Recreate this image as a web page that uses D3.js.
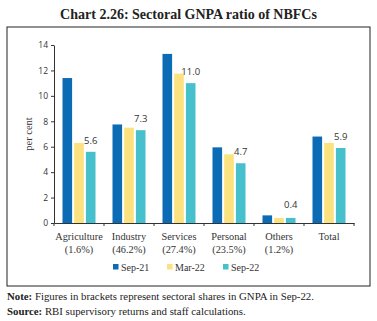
<!DOCTYPE html>
<html>
<head>
<meta charset="utf-8">
<script src="https://cdn.jsdelivr.net/npm/d3@7"></script>
<style>
  body { margin: 0; background: #fff; }
  svg { display: block; font-family: "Liberation Serif", "DejaVu Serif", serif; }
</style>
</head>
<body>
<svg id="chart"></svg>
<script>
const categories = ['Agriculture', 'Industry', 'Services', 'Personal', 'Others', 'Total'];
const shares = ['(1.6%)', '(46.2%)', '(27.4%)', '(23.5%)', '(1.2%)', ''];
const seriesNames = ['Sep-21', 'Mar-22', 'Sep-22'];
const sep21 = [11.4, 7.75, 13.3, 5.95, 0.6, 6.8];
const mar22 = [6.3, 7.5, 11.75, 5.4, 0.4, 6.3];
const sep22 = [5.6, 7.3, 11.0, 4.7, 0.4, 5.9];
const yTicks = [0, 2, 4, 6, 8, 10, 12, 14];

const colors = ['#0b6bb5', '#fbe27f', '#45c0cc'];
const seriesValues = [sep21, mar22, sep22];
const numFont = '"Open Sans", "Noto Sans", sans-serif';

const width = 377, height = 321;
const svg = d3.select('#chart').attr('width', width).attr('height', height);

// title
svg.append('text')
  .attr('x', 188.5).attr('y', 19)
  .attr('text-anchor', 'middle')
  .attr('font-weight', 'bold')
  .attr('font-size', 14)
  .attr('fill', '#222')
  .text('Chart 2.26: Sectoral GNPA ratio of NBFCs');

// frame
svg.append('rect')
  .attr('x', 7).attr('y', 27)
  .attr('width', 363).attr('height', 259)
  .attr('fill', 'none').attr('stroke', '#222').attr('stroke-width', 1);

const plotLeft = 54, plotRight = 354, plotTop = 45, plotBottom = 223;

const x = d3.scaleBand().domain(categories).range([plotLeft, plotRight]);
const xs = d3.scaleBand().domain(seriesNames).range([0, 33]).paddingInner(0.18);
const y = d3.scaleLinear().domain([0, 14]).range([plotBottom, plotTop]);

// bars
seriesNames.forEach((name, si) => {
  svg.append('g').selectAll('rect')
    .data(categories)
    .join('rect')
    .attr('x', (c) => x(c) + (x.bandwidth() - 33) / 2 + xs(name))
    .attr('y', (c, i) => y(seriesValues[si][i]))
    .attr('width', xs.bandwidth())
    .attr('height', (c, i) => plotBottom - y(seriesValues[si][i]))
    .attr('fill', colors[si]);
});

// value labels on Sep-22 bars
svg.append('g').selectAll('text')
  .data(categories)
  .join('text')
  .attr('x', (c) => x(c) + (x.bandwidth() - 33) / 2 + xs('Sep-22') + xs.bandwidth() / 2)
  .attr('y', (c, i) => y(sep22[i]) - (i === 4 ? 10 : 8))
  .attr('text-anchor', 'middle')
  .attr('font-family', numFont)
  .attr('font-size', 9.5)
  .attr('fill', '#333')
  .text((c, i) => sep22[i].toFixed(1));

// y axis
const yAxis = svg.append('g')
  .attr('transform', `translate(${plotLeft},0)`)
  .call(d3.axisLeft(y).tickValues(yTicks).tickSize(3).tickPadding(3).tickSizeOuter(0));
yAxis.select('.domain').attr('stroke', '#333');
yAxis.selectAll('line').attr('stroke', '#333');
yAxis.selectAll('text').attr('font-size', 8.5).attr('fill', '#333').attr('font-family', numFont);

// x axis
const xAxis = svg.append('g')
  .attr('transform', `translate(0,${plotBottom})`)
  .call(d3.axisBottom(x).tickSize(0).tickFormat(''));
xAxis.select('.domain').attr('stroke', '#333');
svg.append('g').selectAll('line')
  .data(categories.map((c) => x(c)).concat([plotRight]))
  .join('line')
  .attr('x1', (d) => d).attr('x2', (d) => d)
  .attr('y1', plotBottom).attr('y2', plotBottom + 3)
  .attr('stroke', '#333');

// category labels
const catLabels = svg.append('g').selectAll('text')
  .data(categories)
  .join('text')
  .attr('text-anchor', 'middle')
  .attr('font-size', 10.3)
  .attr('fill', '#333');
catLabels.append('tspan')
  .attr('x', (c) => x(c) + x.bandwidth() / 2)
  .attr('y', 240)
  .text((c) => c);
catLabels.append('tspan')
  .attr('x', (c) => x(c) + x.bandwidth() / 2)
  .attr('y', 253)
  .text((c, i) => shares[i]);

// y label
svg.append('text')
  .attr('transform', 'translate(32,134) rotate(-90)')
  .attr('text-anchor', 'middle')
  .attr('font-size', 10.5)
  .attr('fill', '#333')
  .text('per cent');

// legend
const legendX = [113, 167, 223];
const legend = svg.append('g').selectAll('g')
  .data(seriesNames)
  .join('g')
  .attr('transform', (d, i) => `translate(${legendX[i]},267)`);
legend.append('rect')
  .attr('x', 0).attr('y', -3)
  .attr('width', 5.5).attr('height', 5.5)
  .attr('fill', (d, i) => colors[i]);
legend.append('text')
  .attr('x', 8).attr('y', 3.5)
  .attr('font-size', 10)
  .attr('fill', '#333')
  .text((d) => d);

// notes
const note = svg.append('text').attr('x', 7).attr('y', 300).attr('font-size', 10.8).attr('fill', '#222');
note.append('tspan').attr('font-weight', 'bold').text('Note: ');
note.append('tspan').text('Figures in brackets represent sectoral shares in GNPA in Sep-22.');
const source = svg.append('text').attr('x', 7).attr('y', 315).attr('font-size', 10.8).attr('fill', '#222');
source.append('tspan').attr('font-weight', 'bold').text('Source: ');
source.append('tspan').text('RBI supervisory returns and staff calculations.');
</script>
</body>
</html>
